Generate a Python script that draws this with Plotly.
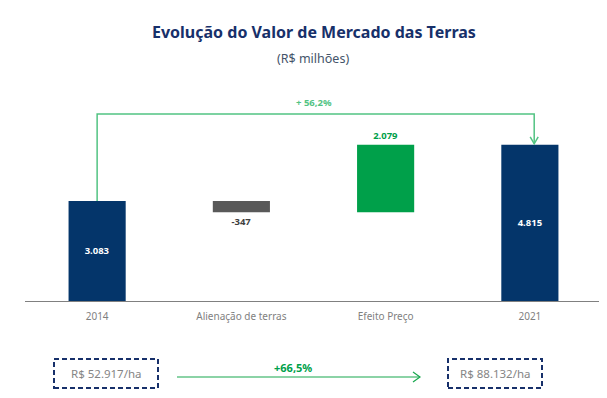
import plotly.graph_objects as go

# ---- data ----
categories = ["2014", "Alienação de terras", "Efeito Preço", "2021"]
start_value = 3083
alienacao = -347
efeito_preco = 2079
end_value = 4815
value_labels = ["3.083", "-347", "2.079", "4.815"]
growth_total_label = "+ 56,2%"
price_per_ha = ["R$ 52.917/ha", "R$ 88.132/ha"]
growth_ha_label = "+66,5%"
title_text = "Evolução do Valor de Mercado das Terras"
subtitle_text = "(R$ milhões)"

NAVY = "#04356a"
GRAY = "#595959"
GREEN = "#00a04a"
LIGHT_GREEN = "#52c383"
FONT = "Noto Sans"

heights = [start_value, alienacao, efeito_preco, end_value]
bases = [0, start_value, start_value + alienacao, 0]
colors = [NAVY, GRAY, GREEN, NAVY]
text_pos = ["inside", "outside", "outside", "inside"]
text_colors = ["white", "#404040", GREEN, "white"]

# page body has an 8px margin: work in window pixels and convert
O = 8
WIN_W, WIN_H = 607, 398
W, H = WIN_W - O, WIN_H - O
plot_x0, plot_x1, plot_y0, plot_y1 = 25, 602, 80, 301   # window pixels
ml, mr = plot_x0 - O, WIN_W - plot_x1
mt, mb = plot_y0 - O, WIN_H - plot_y1
ymax = 6812

fig = go.Figure()
fig.add_trace(go.Bar(
    x=categories, y=heights, base=bases,
    marker=dict(color=colors, line=dict(width=0)),
    width=0.396,
    text=value_labels, textposition=text_pos,
    insidetextanchor="middle",
    textfont=dict(color=text_colors, size=9.5, family=FONT, weight="bold"),
    cliponaxis=False, hoverinfo="skip",
))

# bracket line
bracket_y = 5765
fig.add_shape(type="path",
              path=f"M 0,{start_value} L 0,{bracket_y} L 3.03,{bracket_y} L 3.03,{end_value + 40}",
              xref="x", yref="y", line=dict(color=LIGHT_GREEN, width=1.5))
fig.add_shape(type="path", xref="x", yref="y", xsizemode="pixel", ysizemode="pixel",
              xanchor=3.03, yanchor=end_value + 30,
              path="M -4,7 L 0,0 L 4,7", line=dict(color=LIGHT_GREEN, width=1.5))
fig.add_annotation(x=1.5, y=6104, xref="x", yref="y", text=f"<b>{growth_total_label}</b>",
                   showarrow=False, xanchor="center", yanchor="middle",
                   font=dict(color=LIGHT_GREEN, size=9.5, family=FONT))


def px_x(p):
    return (p - plot_x0) / (plot_x1 - plot_x0)


def px_y(p):
    return (plot_y1 - p) / (plot_y1 - plot_y0)


def note(xp, yp, text, color, size):
    fig.add_annotation(x=px_x(xp), y=px_y(yp), xref="paper", yref="paper",
                       text=text, showarrow=False, xanchor="center", yanchor="middle",
                       font=dict(color=color, size=size, family=FONT))


note(314, 32, f"<b>{title_text}</b>", "#17306a", 16)
note(313, 59, subtitle_text, "#44546a", 12.5)

# dashed boxes
for (x0, x1), label in zip([(54, 158), (448, 542)], price_per_ha):
    fig.add_shape(type="rect", xref="paper", yref="paper",
                  x0=px_x(x0), x1=px_x(x1), y0=px_y(388), y1=px_y(359),
                  line=dict(color="#17306a", width=2, dash="5px,3px"))
    note((x0 + x1) / 2, 373.5, label, "#858585", 11.5)

# bottom arrow
fig.add_shape(type="line", xref="paper", yref="paper",
              x0=px_x(177), x1=px_x(420), y0=px_y(377), y1=px_y(377),
              line=dict(color="#19a84f", width=1.2))
fig.add_shape(type="path", xref="paper", yref="paper", xsizemode="pixel", ysizemode="pixel",
              xanchor=px_x(420), yanchor=px_y(377),
              path="M -7,5 L 0,0 L -7,-5", line=dict(color="#19a84f", width=1.2))
note(293, 367, f"<b>{growth_ha_label}</b>", GREEN, 11)

fig.update_layout(
    width=W, height=H,
    margin=dict(l=ml, r=mr, t=mt, b=mb),
    paper_bgcolor="white", plot_bgcolor="white",
    showlegend=False,
    font=dict(family=FONT),
    xaxis=dict(type="category", range=[-0.5, 3.5], showline=True, linecolor="#808080",
               linewidth=1, showgrid=False, ticks="", ticklabelstandoff=6,
               tickfont=dict(color="#7f7f7f", size=10, family=FONT), fixedrange=True),
    yaxis=dict(range=[0, ymax], visible=False, fixedrange=True),
)

fig.write_html("out.html")
